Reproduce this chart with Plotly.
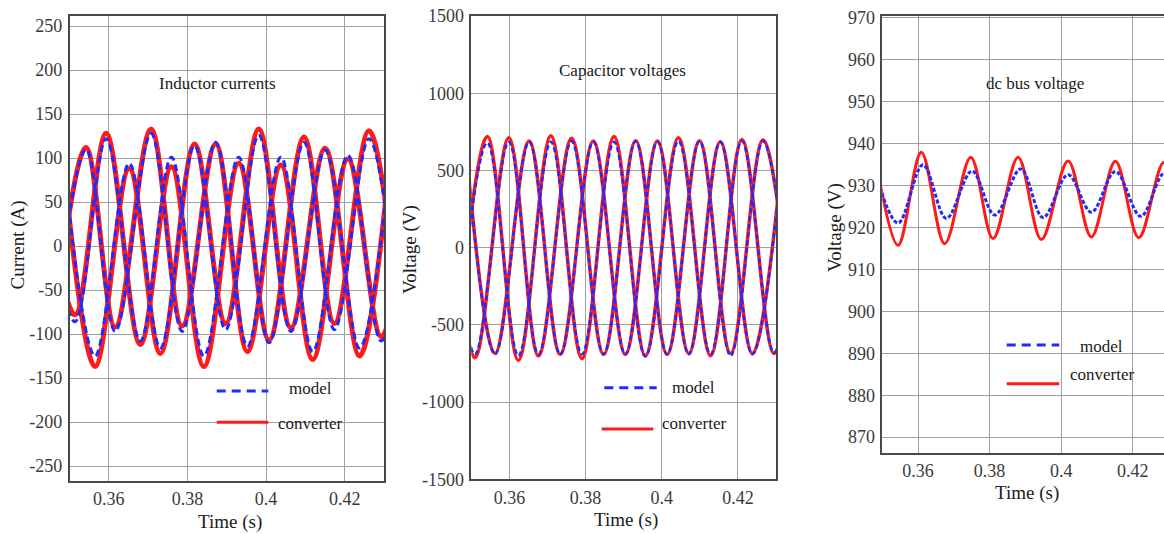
import plotly.graph_objects as go

SERIF = "Liberation Serif, serif"
RED = "#ff1a1a"
BLUE = "#1f2bff"

# ---------------- Inductor currents (A): extrema of each phase ----------------
IA_T = [0.34586, 0.35421, 0.36162, 0.37074, 0.37866, 0.38717, 0.39526, 0.40377, 0.41187, 0.42081, 0.42931, 0.43748]
IA_CONV = [-95, 112, -92, 133, -91, 116, -120, 92, -129, 99, -103, 105]
IA_MODEL = [-95, 110, -97, 128, -97, 118, -114, 101, -120, 103, -108, 105]

IB_T = [0.34264, 0.35140, 0.35932, 0.36801, 0.37593, 0.38418, 0.39304, 0.40078, 0.40964, 0.41738, 0.42617, 0.43442]
IB_CONV = [100, -78, 128, -112, 90, -137, 94, -107, 124, -88, 131, -110]
IB_MODEL = [100, -86, 122, -108, 101, -125, 101, -110, 118, -95, 122, -110]

IC_T = [0.34852, 0.35651, 0.36520, 0.37312, 0.38180, 0.38972, 0.39815, 0.40632, 0.41501, 0.42377, 0.43177]
IC_CONV = [92, -137, 88, -122, 116, -88, 133, -93, 111, -125, 110]
IC_MODEL = [95, -125, 94, -116, 114, -95, 126, -97, 109, -116, 108]

# ---------------- Capacitor voltages (V): extrema of each phase ----------------
VA_T = [0.34587, 0.35421, 0.36237, 0.37089, 0.37905, 0.38747, 0.39571, 0.40439, 0.41282, 0.42105, 0.42947, 0.43782]
VA_CONV = [-700, 720, -730, 725, -718, 720, -700, 712, -700, 700, -685, 690]
VA_MODEL = [-690, 680, -700, 685, -690, 685, -705, 690, -690, 690, -680, 690]

VB_T = [0.34316, 0.35097, 0.35984, 0.36763, 0.37632, 0.38474, 0.39316, 0.40142, 0.40992, 0.41808, 0.42658, 0.43492]
VB_CONV = [700, -713, 712, -702, 708, -691, 692, -691, 692, -685, 698, -690]
VB_MODEL = [690, -690, 685, -690, 690, -690, 690, -690, 690, -700, 690, -690]

VC_T = [0.34850, 0.35624, 0.36518, 0.37334, 0.38203, 0.39045, 0.39887, 0.40711, 0.41537, 0.42379, 0.43203]
VC_CONV = [690, -685, 690, -691, 690, -691, 690, -685, 685, -685, 690]
VC_MODEL = [685, -690, 685, -690, 685, -690, 685, -690, 685, -690, 685]

# ---------------- dc bus voltage (V): extrema ----------------
VDC_CONV_T = [0.34787, 0.35439, 0.36091, 0.36745, 0.37473, 0.38097, 0.38796, 0.39448, 0.40194, 0.40846, 0.41517, 0.42172, 0.42880, 0.43550]
VDC_CONV = [938.0, 915.7, 937.9, 916.1, 936.7, 917.3, 936.7, 917.1, 935.8, 917.7, 935.7, 917.5, 935.5, 917.5]
VDC_MODEL_T = [0.34740, 0.35439, 0.36138, 0.36790, 0.37509, 0.38144, 0.38871, 0.39495, 0.40194, 0.40846, 0.41517, 0.42228, 0.42900, 0.43610]
VDC_MODEL = [935.0, 921.0, 934.9, 922.1, 933.4, 922.9, 933.9, 922.3, 932.5, 923.6, 933.3, 922.6, 933.0, 922.6]

# ---------------- axes ----------------
TIME_TICKS = [0.36, 0.38, 0.40, 0.42]
TIME_LABELS = ["0.36", "0.38", "0.4", "0.42"]
I_TICKS = [-250, -200, -150, -100, -50, 0, 50, 100, 150, 200, 250]
V_TICKS = [-1500, -1000, -500, 0, 500, 1000, 1500]
VDC_TICKS = [870, 880, 890, 900, 910, 920, 930, 940, 950, 960, 970]

W, H = 1164, 534


def px(x):
    return x / W


def py(y):
    return 1 - y / H


fig = go.Figure()

# converter traces first so the model traces sit on top
for t, c in [(IA_T, IA_CONV), (IB_T, IB_CONV), (IC_T, IC_CONV)]:
    fig.add_trace(go.Scatter(x=t, y=c, mode="lines", line=dict(color=RED, width=5, shape="spline"),
                             xaxis="x", yaxis="y", showlegend=False, hoverinfo="skip"))
for t, m in [(IA_T, IA_MODEL), (IB_T, IB_MODEL), (IC_T, IC_MODEL)]:
    fig.add_trace(go.Scatter(x=t, y=m, mode="lines",
                             line=dict(color=BLUE, width=3, shape="spline", dash="7px,4px"),
                             xaxis="x", yaxis="y", showlegend=False, hoverinfo="skip"))

for t, c in [(VA_T, VA_CONV), (VB_T, VB_CONV), (VC_T, VC_CONV)]:
    fig.add_trace(go.Scatter(x=t, y=c, mode="lines", line=dict(color=RED, width=3.5, shape="spline"),
                             xaxis="x2", yaxis="y2", showlegend=False, hoverinfo="skip"))
for t, m in [(VA_T, VA_MODEL), (VB_T, VB_MODEL), (VC_T, VC_MODEL)]:
    fig.add_trace(go.Scatter(x=t, y=m, mode="lines",
                             line=dict(color=BLUE, width=2.5, shape="spline", dash="5px,3px"),
                             xaxis="x2", yaxis="y2", showlegend=False, hoverinfo="skip"))

fig.add_trace(go.Scatter(x=VDC_CONV_T, y=VDC_CONV, mode="lines", line=dict(color=RED, width=3, shape="spline"),
                         xaxis="x3", yaxis="y3", showlegend=False, hoverinfo="skip"))
fig.add_trace(go.Scatter(x=VDC_MODEL_T, y=VDC_MODEL, mode="lines",
                         line=dict(color=BLUE, width=3, shape="spline", dash="4px,2px"),
                         xaxis="x3", yaxis="y3", showlegend=False, hoverinfo="skip"))

tickfont = dict(family=SERIF, size=18, color="#3a3a3a")
base = dict(showline=True, linecolor="#4a4a4a", linewidth=1.5, showgrid=True, gridcolor="#a0a0a0",
            gridwidth=1, zeroline=False, ticks="", tickfont=tickfont, fixedrange=True, automargin=False)

xbase = dict(base, tickvals=TIME_TICKS, ticktext=TIME_LABELS, mirror=True, ticklabelstandoff=1)

fig.update_layout(
    template="none",
    font=dict(family=SERIF, size=17, color="#1a1a1a"),
    width=W, height=H, margin=dict(l=0, r=0, t=0, b=0, pad=0, autoexpand=False),
    paper_bgcolor="white", plot_bgcolor="white", showlegend=False,
    xaxis=dict(xbase, domain=[px(69.5), px(384)], range=[0.35, 0.43], anchor="y"),
    yaxis=dict(base, domain=[py(481), py(15.7)], range=[-267, 261.7], tickvals=I_TICKS,
               ticktext=[str(v) for v in I_TICKS], mirror=True, anchor="x", ticklabelstandoff=2),
    xaxis2=dict(xbase, domain=[px(471.3), px(776)], range=[0.35, 0.43], anchor="y2"),
    yaxis2=dict(base, domain=[py(479.3), py(16)], range=[-1500, 1500], tickvals=V_TICKS,
                ticktext=[str(v) for v in V_TICKS], mirror=True, anchor="x2", ticklabelstandoff=2),
    xaxis3=dict(xbase, domain=[px(882.3), 1.0], range=[0.35, 0.42876], anchor="y3"),
    yaxis3=dict(base, domain=[py(452.7), py(15.7)], range=[866.3, 970.4], tickvals=VDC_TICKS,
                ticktext=[str(v) for v in VDC_TICKS], mirror=False, anchor="x3", ticklabelstandoff=2),
)

annotations = []


def label(x, y, text, size=17, xanchor="center", angle=0):
    annotations.append(dict(xref="paper", yref="paper", x=x, y=y, text=text, showarrow=False,
                            xanchor=xanchor, yanchor="middle", textangle=angle,
                            font=dict(family=SERIF, color="#1a1a1a", size=size)))


# panel captions
label(px(217), py(83.5), "Inductor currents")
label(px(622), py(70), "Capacitor voltages")
label(px(1034.7), py(83.3), "dc bus voltage")

# axis titles
label(px(230), py(521.7), "Time (s)", size=19)
label(px(626), py(520), "Time (s)", size=19)
label(px(1026.7), py(493.3), "Time (s)", size=19)
label(px(17.5), py(245), "Current (A)", size=19, angle=-90)
label(px(410), py(250), "Voltage (V)", size=19, angle=-90)
label(px(835), py(228), "Voltage (V)", size=19, angle=-90)

# legend keys
shapes = []
LEGENDS = [
    # (model line x0, x1, y, model text x, y, converter line x0, x1, y, converter text x, y)
    (216.7, 268.3, 391, 286.7, 388.3, 216.7, 268.3, 422.3, 276, 423.3),
    (604.3, 656.7, 387.7, 670, 387.7, 601.7, 653.3, 429, 660, 423.3),
    (1006.7, 1059.3, 345, 1077.7, 346.7, 1006.7, 1059.3, 383.7, 1068.3, 374.3),
]
for (bx0, bx1, by, mx, my, rx0, rx1, ry, cx, cy) in LEGENDS:
    shapes.append(dict(type="line", xref="paper", yref="paper", x0=px(bx0), x1=px(bx1), y0=py(by), y1=py(by),
                       line=dict(color=BLUE, width=3, dash="9px,6px")))
    shapes.append(dict(type="line", xref="paper", yref="paper", x0=px(rx0), x1=px(rx1), y0=py(ry), y1=py(ry),
                       line=dict(color=RED, width=3)))
    label(px(mx), py(my), "model", xanchor="left")
    label(px(cx), py(cy), "converter", xanchor="left")

fig.update_layout(annotations=annotations, shapes=shapes)

fig.write_html("out.html")
